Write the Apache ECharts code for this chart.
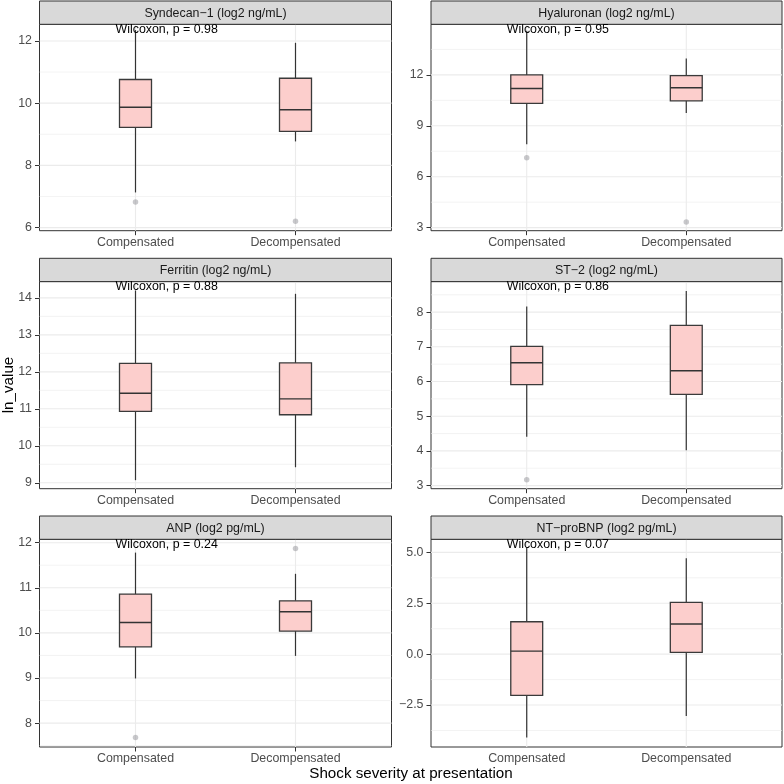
<!DOCTYPE html>
<html>
<head>
<meta charset="utf-8">
<script src="https://cdn.jsdelivr.net/npm/echarts@6/dist/echarts.min.js"></script>
<style>html,body{margin:0;padding:0;background:#fff}#chart{width:784px;height:784px}</style>
</head>
<body>
<div id="chart"></div>
<script>
// ---------------- data ----------------
const categories = ['Compensated', 'Decompensated'];
const panelTitles = [
  'Syndecan\u22121 (log2 ng/mL)', 'Hyaluronan (log2 ng/mL)',
  'Ferritin (log2 ng/mL)', 'ST\u22122 (log2 ng/mL)',
  'ANP (log2 pg/mL)', 'NT\u2212proBNP (log2 pg/mL)'
];
const pValueLabels = [
  'Wilcoxon, p = 0.98', 'Wilcoxon, p = 0.95', 'Wilcoxon, p = 0.88',
  'Wilcoxon, p = 0.86', 'Wilcoxon, p = 0.24', 'Wilcoxon, p = 0.07'
];
// box stats per group: [lower whisker, Q1, median, Q3, upper whisker]
const syndecanBoxes   = [[7.13, 9.22, 9.87, 10.76, 12.35], [8.77, 9.09, 9.79, 10.80, 11.94]];
const hyaluronanBoxes = [[7.92, 10.32, 11.20, 12.00, 14.60], [9.76, 10.47, 11.24, 11.96, 12.96]];
const ferritinBoxes   = [[9.07, 10.93, 11.42, 12.23, 14.20], [9.42, 10.84, 11.27, 12.24, 14.11]];
const st2Boxes        = [[4.41, 5.91, 6.54, 7.01, 8.16], [4.02, 5.63, 6.31, 7.62, 8.61]];
const anpBoxes        = [[8.99, 9.69, 10.23, 10.86, 11.78], [9.49, 10.04, 10.47, 10.71, 11.31]];
const ntprobnpBoxes   = [[-4.09, -2.02, 0.15, 1.59, 5.25], [-3.04, 0.09, 1.48, 2.54, 4.71]];
// outliers: [group (1 = Compensated, 2 = Decompensated), value]
const syndecanOutliers   = [[1, 6.82], [2, 6.20]];
const hyaluronanOutliers = [[1, 7.12], [2, 3.33]];
const ferritinOutliers   = [];
const st2Outliers        = [[1, 3.17]];
const anpOutliers        = [[1, 7.68], [2, 11.87]];
const ntprobnpOutliers   = [];
// axis ranges and ticks
const yMins = [5.90, 2.82, 8.84, 2.91, 7.47, -4.56];
const yMaxs = [12.535, 14.98, 14.44, 8.88, 12.075, 5.64];
const majorTicks = [[6, 8, 10, 12], [3, 6, 9, 12], [9, 10, 11, 12, 13, 14], [3, 4, 5, 6, 7, 8], [8, 9, 10, 11, 12], [-2.5, 0, 2.5, 5]];
const minorTicks = [[7, 9, 11], [4.5, 7.5, 10.5, 13.5], [9.5, 10.5, 11.5, 12.5, 13.5], [3.5, 4.5, 5.5, 6.5, 7.5, 8.5], [7.5, 8.5, 9.5, 10.5, 11.5], [-3.75, -1.25, 1.25, 3.75]];
const tickDecimals = [0, 0, 0, 0, 0, 1];
const yAxisTitle = 'ln_value';
const xAxisTitle = 'Shock severity at presentation';

const allBoxes = [syndecanBoxes, hyaluronanBoxes, ferritinBoxes, st2Boxes, anpBoxes, ntprobnpBoxes];
const allOutliers = [syndecanOutliers, hyaluronanOutliers, ferritinOutliers, st2Outliers, anpOutliers, ntprobnpOutliers];

// ---------------- layout ----------------
const FONT = "'Liberation Sans', Arial, Helvetica, sans-serif";
const X_MIN = 0.4, X_MAX = 2.6;
const colLeft = [39.5, 431];
const colWidth = [352, 351];
const stripTop = [1, 258.3, 516];
const stripH = 23.3;
const plotBottom = [230.7, 488.7, 747];

const grids = [], xAxes = [], yAxes = [], series = [], graphics = [];
const fmtMinus = (v, d) => (v < 0 ? '\u2212' : '') + Math.abs(v).toFixed(d);

for (let i = 0; i < 6; i++) {
  const r = Math.floor(i / 2), c = i % 2;
  const left = colLeft[c], width = colWidth[c];
  const top = stripTop[r] + stripH;
  const height = plotBottom[r] - top;
  const yMin = yMins[i], yMax = yMaxs[i];
  grids.push({ left, top, width, height, show: true, backgroundColor: '#ffffff', borderColor: '#333333', borderWidth: 1, containLabel: false });
  xAxes.push({
    type: 'value', gridIndex: i, min: X_MIN, max: X_MAX,
    axisLine: { show: false }, splitLine: { show: false },
    axisTick: { show: true, length: 4.5, lineStyle: { color: '#333333', width: 1 }, customValues: [1, 2] },
    axisLabel: { customValues: [1, 2], formatter: v => categories[Math.round(v) - 1], color: '#4D4D4D', fontSize: 12.4, fontFamily: FONT, margin: 6 }
  });
  const dec = tickDecimals[i];
  yAxes.push({
    type: 'value', gridIndex: i, min: yMin, max: yMax,
    axisLine: { show: false }, splitLine: { show: false },
    axisTick: { show: true, length: 4.5, lineStyle: { color: '#333333', width: 1 }, customValues: majorTicks[i] },
    axisLabel: { customValues: majorTicks[i], formatter: v => fmtMinus(v, dec), color: '#4D4D4D', fontSize: 12.4, fontFamily: FONT, margin: 7.5 }
  });
  // gridlines: [kind, value]  kind 0 = minor y, 1 = major y, 2 = x
  const gl = [];
  minorTicks[i].forEach(v => gl.push([0, v]));
  majorTicks[i].forEach(v => gl.push([1, v]));
  [1, 2].forEach(v => gl.push([2, v]));
  series.push({
    type: 'custom', xAxisIndex: i, yAxisIndex: i, z: 1, silent: true, animation: false,
    encode: { x: -1, y: -1 },
    data: gl,
    renderItem: (params, api) => {
      const kind = api.value(0), v = api.value(1);
      let p1, p2;
      if (kind === 2) { p1 = api.coord([v, yMin]); p2 = api.coord([v, yMax]); }
      else { p1 = api.coord([X_MIN, v]); p2 = api.coord([X_MAX, v]); }
      return { type: 'line', shape: { x1: p1[0], y1: p1[1], x2: p2[0], y2: p2[1] },
        style: { stroke: '#EBEBEB', lineWidth: kind === 0 ? 0.6 : 1.1 } };
    }
  });
  // boxes
  const boxData = allBoxes[i].map((b, g) => [g + 1, b[0], b[1], b[2], b[3], b[4]]);
  series.push({
    type: 'custom', xAxisIndex: i, yAxisIndex: i, z: 3, animation: false,
    encode: { x: 0, y: [1, 2, 3, 4, 5] },
    data: boxData,
    renderItem: (params, api) => {
      const x = api.value(0);
      const lo = api.value(1), q1 = api.value(2), med = api.value(3), q3 = api.value(4), hi = api.value(5);
      const hw = 0.1;
      const pTL = api.coord([x - hw, q3]);
      const pBR = api.coord([x + hw, q1]);
      const pML = api.coord([x - hw, med]);
      const pMR = api.coord([x + hw, med]);
      const pHi = api.coord([x, hi]);
      const pQ3 = api.coord([x, q3]);
      const pQ1 = api.coord([x, q1]);
      const pLo = api.coord([x, lo]);
      const stroke = '#333333';
      return {
        type: 'group', children: [
          { type: 'line', shape: { x1: pHi[0], y1: pHi[1], x2: pQ3[0], y2: pQ3[1] }, style: { stroke, lineWidth: 1.2 } },
          { type: 'line', shape: { x1: pQ1[0], y1: pQ1[1], x2: pLo[0], y2: pLo[1] }, style: { stroke, lineWidth: 1.2 } },
          { type: 'rect', shape: { x: pTL[0], y: pTL[1], width: pBR[0] - pTL[0], height: pBR[1] - pTL[1] }, style: { fill: 'rgb(252,206,204)', stroke: '#3a3a3a', lineWidth: 1.3 } },
          { type: 'line', shape: { x1: pML[0], y1: pML[1], x2: pMR[0], y2: pMR[1] }, style: { stroke, lineWidth: 1.4 } }
        ]
      };
    }
  });
  // outliers
  series.push({
    type: 'scatter', xAxisIndex: i, yAxisIndex: i, z: 4, animation: false,
    data: allOutliers[i], symbolSize: 5.5, itemStyle: { color: 'rgba(150,150,155,0.65)' }
  });
  // strip
  graphics.push({ type: 'rect', shape: { x: left, y: stripTop[r], width, height: stripH }, style: { fill: '#D9D9D9', stroke: '#333333', lineWidth: 1 }, z: 10 });
  graphics.push({ type: 'text', x: left + width / 2, y: stripTop[r] + stripH / 2 + 0.5, style: { text: panelTitles[i], fill: '#1A1A1A', fontSize: 12.4, fontFamily: FONT, textAlign: 'center', textVerticalAlign: 'middle' }, z: 11 });
  // p-value label
  graphics.push({ type: 'text', x: left + width * ((1 - X_MIN) / (X_MAX - X_MIN)) - 20, y: top + 5.3, style: { text: pValueLabels[i], fill: '#000000', fontSize: 12.4, fontFamily: FONT, textAlign: 'left', textVerticalAlign: 'middle' }, z: 12 });
}
graphics.push({ type: 'text', x: 9, y: 385, rotation: Math.PI / 2, style: { text: yAxisTitle, fill: '#000', fontSize: 15.2, fontFamily: FONT, textAlign: 'center', textVerticalAlign: 'middle' }, z: 12 });
graphics.push({ type: 'text', x: 411, y: 774, style: { text: xAxisTitle, fill: '#000', fontSize: 15.2, fontFamily: FONT, textAlign: 'center', textVerticalAlign: 'middle' }, z: 12 });

const chart = echarts.init(document.getElementById('chart'), null, { renderer: 'canvas' });
chart.setOption({
  animation: false,
  backgroundColor: '#ffffff',
  grid: grids, xAxis: xAxes, yAxis: yAxes, series, graphic: graphics
});
</script>
</body>
</html>
